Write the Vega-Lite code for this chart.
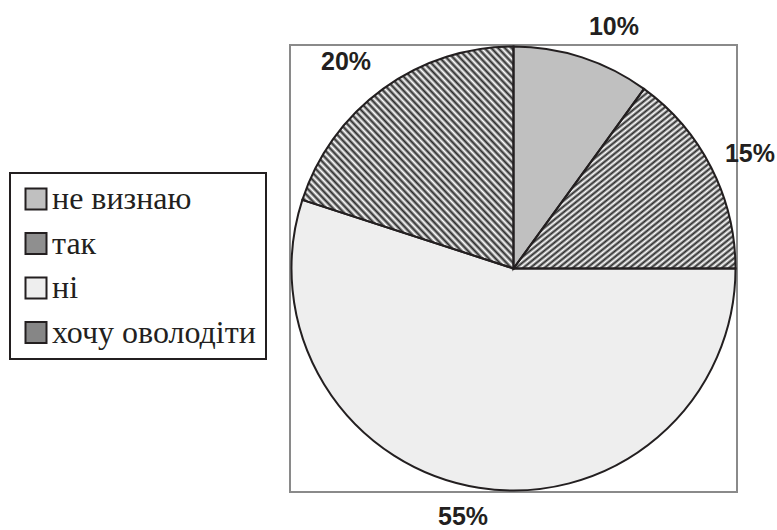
{
  "$schema": "https://vega.github.io/schema/vega-lite/v6.json",
  "width": 447,
  "height": 447,
  "autosize": {"type": "none"},
  "padding": {"left": 290, "top": 45, "right": 40, "bottom": 38},
  "background": "white",
  "view": {"stroke": "#8a8a8a", "strokeWidth": 2},
  "config": {
    "view": {"stroke": "#8a8a8a", "strokeWidth": 2},
    "legend": {"strokeWidth": 2, "labelFont": "Liberation Serif"},
    "style": {"guide-label": {"font": "Liberation Serif"}}
  },
  "data": {
    "values": [
      {"category": "не визнаю", "value": 10, "ord": 1, "label": "10%"},
      {"category": "так", "value": 15, "ord": 2, "label": "15%"},
      {"category": "ні", "value": 55, "ord": 3, "label": "55%"},
      {"category": "хочу оволодіти", "value": 20, "ord": 4, "label": "20%"}
    ]
  },
  "encoding": {
    "theta": {"field": "value", "type": "quantitative", "stack": true},
    "order": {"field": "ord", "type": "quantitative"},
    "detail": {"field": "category", "type": "nominal"}
  },
  "layer": [
    {
      "mark": {"type": "arc", "outerRadius": 222, "strokeWidth": 0},
      "encoding": {
        "color": {
          "field": "category",
          "type": "nominal",
          "scale": {
            "domain": ["не визнаю", "так", "ні", "хочу оволодіти"],
            "range": ["#c0c0c0", "#8f8f8f", "#eeeeee", "#868686"]
          },
          "legend": {
            "title": null,
            "orient": "none",
            "legendX": -280,
            "legendY": 128,
            "symbolType": "square",
            "symbolSize": 441,
            "symbolStrokeColor": "#231f20",
            "symbolStrokeWidth": 2,
            "symbolOpacity": 1,
            "labelFont": "Liberation Serif",
            "labelFontSize": 32,
            "labelColor": "#231f20",
            "labelOffset": 0,
            "labelLimit": 400,
            "rowPadding": 12.5,
            "padding": 10,
            "strokeColor": "#231f20",
            "fillColor": "white"
          }
        }
      }
    },
    {
      "mark": {"type": "arc", "outerRadius": 222, "strokeWidth": 0, "fill": {"gradient": "linear", "x1": 0, "y1": 0, "x2": 1, "y2": 1, "stops": [
                {"offset":0,"color":"#ffffff"},{"offset":0.008,"color":"#2a2a2a"},{"offset":0.016,"color":"#ffffff"},{"offset":0.024,"color":"#2a2a2a"},{"offset":0.032,"color":"#ffffff"},{"offset":0.04,"color":"#2a2a2a"},{"offset":0.048,"color":"#ffffff"},{"offset":0.056,"color":"#2a2a2a"},{"offset":0.064,"color":"#ffffff"},{"offset":0.072,"color":"#2a2a2a"},
                {"offset":0.08,"color":"#ffffff"},{"offset":0.088,"color":"#2a2a2a"},{"offset":0.096,"color":"#ffffff"},{"offset":0.104,"color":"#2a2a2a"},{"offset":0.112,"color":"#ffffff"},{"offset":0.12,"color":"#2a2a2a"},{"offset":0.128,"color":"#ffffff"},{"offset":0.136,"color":"#2a2a2a"},{"offset":0.144,"color":"#ffffff"},{"offset":0.152,"color":"#2a2a2a"},
                {"offset":0.16,"color":"#ffffff"},{"offset":0.168,"color":"#2a2a2a"},{"offset":0.176,"color":"#ffffff"},{"offset":0.184,"color":"#2a2a2a"},{"offset":0.192,"color":"#ffffff"},{"offset":0.2,"color":"#2a2a2a"},{"offset":0.208,"color":"#ffffff"},{"offset":0.216,"color":"#2a2a2a"},{"offset":0.224,"color":"#ffffff"},{"offset":0.232,"color":"#2a2a2a"},
                {"offset":0.24,"color":"#ffffff"},{"offset":0.248,"color":"#2a2a2a"},{"offset":0.256,"color":"#ffffff"},{"offset":0.264,"color":"#2a2a2a"},{"offset":0.272,"color":"#ffffff"},{"offset":0.28,"color":"#2a2a2a"},{"offset":0.288,"color":"#ffffff"},{"offset":0.296,"color":"#2a2a2a"},{"offset":0.304,"color":"#ffffff"},{"offset":0.312,"color":"#2a2a2a"},
                {"offset":0.32,"color":"#ffffff"},{"offset":0.328,"color":"#2a2a2a"},{"offset":0.336,"color":"#ffffff"},{"offset":0.344,"color":"#2a2a2a"},{"offset":0.352,"color":"#ffffff"},{"offset":0.36,"color":"#2a2a2a"},{"offset":0.368,"color":"#ffffff"},{"offset":0.376,"color":"#2a2a2a"},{"offset":0.384,"color":"#ffffff"},{"offset":0.392,"color":"#2a2a2a"},
                {"offset":0.4,"color":"#ffffff"},{"offset":0.408,"color":"#2a2a2a"},{"offset":0.416,"color":"#ffffff"},{"offset":0.424,"color":"#2a2a2a"},{"offset":0.432,"color":"#ffffff"},{"offset":0.44,"color":"#2a2a2a"},{"offset":0.448,"color":"#ffffff"},{"offset":0.456,"color":"#2a2a2a"},{"offset":0.464,"color":"#ffffff"},{"offset":0.472,"color":"#2a2a2a"},
                {"offset":0.48,"color":"#ffffff"},{"offset":0.488,"color":"#2a2a2a"},{"offset":0.496,"color":"#ffffff"},{"offset":0.504,"color":"#2a2a2a"},{"offset":0.512,"color":"#ffffff"},{"offset":0.52,"color":"#2a2a2a"},{"offset":0.528,"color":"#ffffff"},{"offset":0.536,"color":"#2a2a2a"},{"offset":0.544,"color":"#ffffff"},{"offset":0.552,"color":"#2a2a2a"},
                {"offset":0.56,"color":"#ffffff"},{"offset":0.568,"color":"#2a2a2a"},{"offset":0.576,"color":"#ffffff"},{"offset":0.584,"color":"#2a2a2a"},{"offset":0.592,"color":"#ffffff"},{"offset":0.6,"color":"#2a2a2a"},{"offset":0.608,"color":"#ffffff"},{"offset":0.616,"color":"#2a2a2a"},{"offset":0.624,"color":"#ffffff"},{"offset":0.632,"color":"#2a2a2a"},
                {"offset":0.64,"color":"#ffffff"},{"offset":0.648,"color":"#2a2a2a"},{"offset":0.656,"color":"#ffffff"},{"offset":0.664,"color":"#2a2a2a"},{"offset":0.672,"color":"#ffffff"},{"offset":0.68,"color":"#2a2a2a"},{"offset":0.688,"color":"#ffffff"},{"offset":0.696,"color":"#2a2a2a"},{"offset":0.704,"color":"#ffffff"},{"offset":0.712,"color":"#2a2a2a"},
                {"offset":0.72,"color":"#ffffff"},{"offset":0.728,"color":"#2a2a2a"},{"offset":0.736,"color":"#ffffff"},{"offset":0.744,"color":"#2a2a2a"},{"offset":0.752,"color":"#ffffff"},{"offset":0.76,"color":"#2a2a2a"},{"offset":0.768,"color":"#ffffff"},{"offset":0.776,"color":"#2a2a2a"},{"offset":0.784,"color":"#ffffff"},{"offset":0.792,"color":"#2a2a2a"},
                {"offset":0.8,"color":"#ffffff"},{"offset":0.808,"color":"#2a2a2a"},{"offset":0.816,"color":"#ffffff"},{"offset":0.824,"color":"#2a2a2a"},{"offset":0.832,"color":"#ffffff"},{"offset":0.84,"color":"#2a2a2a"},{"offset":0.848,"color":"#ffffff"},{"offset":0.856,"color":"#2a2a2a"},{"offset":0.864,"color":"#ffffff"},{"offset":0.872,"color":"#2a2a2a"},
                {"offset":0.88,"color":"#ffffff"},{"offset":0.888,"color":"#2a2a2a"},{"offset":0.896,"color":"#ffffff"},{"offset":0.904,"color":"#2a2a2a"},{"offset":0.912,"color":"#ffffff"},{"offset":0.92,"color":"#2a2a2a"},{"offset":0.928,"color":"#ffffff"},{"offset":0.936,"color":"#2a2a2a"},{"offset":0.944,"color":"#ffffff"},{"offset":0.952,"color":"#2a2a2a"},
                {"offset":0.96,"color":"#ffffff"},{"offset":0.968,"color":"#2a2a2a"},{"offset":0.976,"color":"#ffffff"},{"offset":0.984,"color":"#2a2a2a"},{"offset":0.992,"color":"#ffffff"},{"offset":1,"color":"#2a2a2a"}
              ]}},
      "encoding": {"fillOpacity": {"condition": {"test": "datum.category === 'так'", "value": 1}, "value": 0}}
    },
    {
      "mark": {"type": "arc", "outerRadius": 222, "strokeWidth": 0, "fill": {"gradient": "linear", "x1": 1, "y1": 0, "x2": 0, "y2": 1, "stops": [
                {"offset":0,"color":"#ffffff"},{"offset":0.008,"color":"#2a2a2a"},{"offset":0.016,"color":"#ffffff"},{"offset":0.024,"color":"#2a2a2a"},{"offset":0.032,"color":"#ffffff"},{"offset":0.04,"color":"#2a2a2a"},{"offset":0.048,"color":"#ffffff"},{"offset":0.056,"color":"#2a2a2a"},{"offset":0.064,"color":"#ffffff"},{"offset":0.072,"color":"#2a2a2a"},
                {"offset":0.08,"color":"#ffffff"},{"offset":0.088,"color":"#2a2a2a"},{"offset":0.096,"color":"#ffffff"},{"offset":0.104,"color":"#2a2a2a"},{"offset":0.112,"color":"#ffffff"},{"offset":0.12,"color":"#2a2a2a"},{"offset":0.128,"color":"#ffffff"},{"offset":0.136,"color":"#2a2a2a"},{"offset":0.144,"color":"#ffffff"},{"offset":0.152,"color":"#2a2a2a"},
                {"offset":0.16,"color":"#ffffff"},{"offset":0.168,"color":"#2a2a2a"},{"offset":0.176,"color":"#ffffff"},{"offset":0.184,"color":"#2a2a2a"},{"offset":0.192,"color":"#ffffff"},{"offset":0.2,"color":"#2a2a2a"},{"offset":0.208,"color":"#ffffff"},{"offset":0.216,"color":"#2a2a2a"},{"offset":0.224,"color":"#ffffff"},{"offset":0.232,"color":"#2a2a2a"},
                {"offset":0.24,"color":"#ffffff"},{"offset":0.248,"color":"#2a2a2a"},{"offset":0.256,"color":"#ffffff"},{"offset":0.264,"color":"#2a2a2a"},{"offset":0.272,"color":"#ffffff"},{"offset":0.28,"color":"#2a2a2a"},{"offset":0.288,"color":"#ffffff"},{"offset":0.296,"color":"#2a2a2a"},{"offset":0.304,"color":"#ffffff"},{"offset":0.312,"color":"#2a2a2a"},
                {"offset":0.32,"color":"#ffffff"},{"offset":0.328,"color":"#2a2a2a"},{"offset":0.336,"color":"#ffffff"},{"offset":0.344,"color":"#2a2a2a"},{"offset":0.352,"color":"#ffffff"},{"offset":0.36,"color":"#2a2a2a"},{"offset":0.368,"color":"#ffffff"},{"offset":0.376,"color":"#2a2a2a"},{"offset":0.384,"color":"#ffffff"},{"offset":0.392,"color":"#2a2a2a"},
                {"offset":0.4,"color":"#ffffff"},{"offset":0.408,"color":"#2a2a2a"},{"offset":0.416,"color":"#ffffff"},{"offset":0.424,"color":"#2a2a2a"},{"offset":0.432,"color":"#ffffff"},{"offset":0.44,"color":"#2a2a2a"},{"offset":0.448,"color":"#ffffff"},{"offset":0.456,"color":"#2a2a2a"},{"offset":0.464,"color":"#ffffff"},{"offset":0.472,"color":"#2a2a2a"},
                {"offset":0.48,"color":"#ffffff"},{"offset":0.488,"color":"#2a2a2a"},{"offset":0.496,"color":"#ffffff"},{"offset":0.504,"color":"#2a2a2a"},{"offset":0.512,"color":"#ffffff"},{"offset":0.52,"color":"#2a2a2a"},{"offset":0.528,"color":"#ffffff"},{"offset":0.536,"color":"#2a2a2a"},{"offset":0.544,"color":"#ffffff"},{"offset":0.552,"color":"#2a2a2a"},
                {"offset":0.56,"color":"#ffffff"},{"offset":0.568,"color":"#2a2a2a"},{"offset":0.576,"color":"#ffffff"},{"offset":0.584,"color":"#2a2a2a"},{"offset":0.592,"color":"#ffffff"},{"offset":0.6,"color":"#2a2a2a"},{"offset":0.608,"color":"#ffffff"},{"offset":0.616,"color":"#2a2a2a"},{"offset":0.624,"color":"#ffffff"},{"offset":0.632,"color":"#2a2a2a"},
                {"offset":0.64,"color":"#ffffff"},{"offset":0.648,"color":"#2a2a2a"},{"offset":0.656,"color":"#ffffff"},{"offset":0.664,"color":"#2a2a2a"},{"offset":0.672,"color":"#ffffff"},{"offset":0.68,"color":"#2a2a2a"},{"offset":0.688,"color":"#ffffff"},{"offset":0.696,"color":"#2a2a2a"},{"offset":0.704,"color":"#ffffff"},{"offset":0.712,"color":"#2a2a2a"},
                {"offset":0.72,"color":"#ffffff"},{"offset":0.728,"color":"#2a2a2a"},{"offset":0.736,"color":"#ffffff"},{"offset":0.744,"color":"#2a2a2a"},{"offset":0.752,"color":"#ffffff"},{"offset":0.76,"color":"#2a2a2a"},{"offset":0.768,"color":"#ffffff"},{"offset":0.776,"color":"#2a2a2a"},{"offset":0.784,"color":"#ffffff"},{"offset":0.792,"color":"#2a2a2a"},
                {"offset":0.8,"color":"#ffffff"},{"offset":0.808,"color":"#2a2a2a"},{"offset":0.816,"color":"#ffffff"},{"offset":0.824,"color":"#2a2a2a"},{"offset":0.832,"color":"#ffffff"},{"offset":0.84,"color":"#2a2a2a"},{"offset":0.848,"color":"#ffffff"},{"offset":0.856,"color":"#2a2a2a"},{"offset":0.864,"color":"#ffffff"},{"offset":0.872,"color":"#2a2a2a"},
                {"offset":0.88,"color":"#ffffff"},{"offset":0.888,"color":"#2a2a2a"},{"offset":0.896,"color":"#ffffff"},{"offset":0.904,"color":"#2a2a2a"},{"offset":0.912,"color":"#ffffff"},{"offset":0.92,"color":"#2a2a2a"},{"offset":0.928,"color":"#ffffff"},{"offset":0.936,"color":"#2a2a2a"},{"offset":0.944,"color":"#ffffff"},{"offset":0.952,"color":"#2a2a2a"},
                {"offset":0.96,"color":"#ffffff"},{"offset":0.968,"color":"#2a2a2a"},{"offset":0.976,"color":"#ffffff"},{"offset":0.984,"color":"#2a2a2a"},{"offset":0.992,"color":"#ffffff"},{"offset":1,"color":"#2a2a2a"}
              ]}},
      "encoding": {"fillOpacity": {"condition": {"test": "datum.category === 'хочу оволодіти'", "value": 1}, "value": 0}}
    },
    {
      "mark": {"type": "arc", "outerRadius": 222, "filled": false, "stroke": "#231f20", "strokeWidth": 2},
      "encoding": {}
    },
    {
      "mark": {"type": "text", "radius": 262, "dx": 19.5, "dy": 7.5, "font": "Liberation Sans", "fontWeight": "bold", "fontSize": 25, "fill": "#231f20", "align": "center", "baseline": "middle"},
      "encoding": {"text": {"condition": {"test": "datum.category === 'не визнаю'", "field": "label"}, "value": ""}}
    },
    {
      "mark": {"type": "text", "radius": 262, "dx": 3, "dy": 4, "font": "Liberation Sans", "fontWeight": "bold", "fontSize": 25, "fill": "#231f20", "align": "center", "baseline": "middle"},
      "encoding": {"text": {"condition": {"test": "datum.category === 'так'", "field": "label"}, "value": ""}}
    },
    {
      "mark": {"type": "text", "radius": 262, "dx": -9.5, "dy": -10, "font": "Liberation Sans", "fontWeight": "bold", "fontSize": 25, "fill": "#231f20", "align": "center", "baseline": "middle"},
      "encoding": {"text": {"condition": {"test": "datum.category === 'ні'", "field": "label"}, "value": ""}}
    },
    {
      "mark": {"type": "text", "radius": 262, "dx": -13.5, "dy": 5.5, "font": "Liberation Sans", "fontWeight": "bold", "fontSize": 25, "fill": "#231f20", "align": "center", "baseline": "middle"},
      "encoding": {"text": {"condition": {"test": "datum.category === 'хочу оволодіти'", "field": "label"}, "value": ""}}
    }
  ]
}
